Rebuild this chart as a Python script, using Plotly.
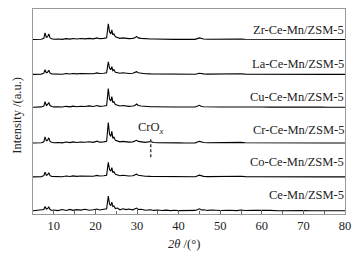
import plotly.graph_objects as go

two_theta = [5, 6, 7, 7.6, 7.9, 8.2, 8.5, 8.8, 9.1, 9.5,
             10, 11, 12, 13, 13.9, 14.6, 15.5, 16.5, 17.5, 18.5,
             19.5, 20.4, 21, 22, 22.7, 23.1, 23.4, 23.7, 23.95, 24.2,
             24.45, 24.8, 25.3, 25.9, 26.6, 27.4, 28, 29, 29.5, 29.9,
             30.3, 31, 32, 33.3, 34, 35, 36, 37, 38, 39,
             40, 41.5, 43, 44, 45, 45.5, 46, 47, 48, 50,
             52, 54, 55, 56, 58, 60, 62, 64, 66, 68,
             70, 72, 74, 76, 78, 80]

samples = ["Ce-Mn/ZSM-5", "Co-Ce-Mn/ZSM-5", "Cr-Ce-Mn/ZSM-5",
           "Cu-Ce-Mn/ZSM-5", "La-Ce-Mn/ZSM-5", "Zr-Ce-Mn/ZSM-5"]

int_ce_mn = [0.3, 0.6, 0.8, 1.5, 4.5, 2.0, 2.5, 4.0, 1.5, 0.5,
             1.0, 0.4, 1.5, 0.6, 1.6, 0.7, 1.4, 0.9, 1.8, 0.8,
             1.2, 2.0, 1.0, 1.6, 2.2, 15.0, 7.0, 5.5, 9.0, 4.5,
             5.0, 2.5, 3.0, 1.2, 2.2, 1.4, 2.0, 1.2, 2.5, 3.0,
             1.5, 1.8, 0.8, 1.2, 0.6, 1.0, 0.5, 0.9, 0.4, 0.8,
             0.4, 0.7, 0.3, 0.6, 2.2, 1.0, 1.2, 0.6, 1.0, 0.5,
             0.8, 0.4, 1.0, 0.5, 0.7, 0.3, 0.6, 0.3, 0.5, 0.2,
             0.5, 0.2, 0.4, 0.2, 0.3, 0.3]
int_co = [0.3, 0.5, 0.6, 1.5, 5.0, 2.0, 2.5, 4.5, 1.5, 0.8,
          0.6, 0.8, 0.5, 1.2, 0.7, 1.3, 0.8, 1.2, 1.0, 1.4,
          1.0, 1.8, 1.2, 1.4, 2.0, 15.0, 7.5, 6.0, 9.5, 4.5,
          5.5, 3.0, 2.5, 1.5, 2.0, 1.5, 1.2, 1.5, 2.0, 3.0,
          2.0, 1.5, 1.0, 0.8, 0.8, 0.6, 0.7, 0.6, 0.5, 0.5,
          0.5, 0.4, 0.4, 0.5, 2.0, 1.0, 0.8, 0.6, 0.7, 0.5,
          0.5, 0.6, 0.9, 0.6, 0.5, 0.5, 0.4, 0.5, 0.4, 0.4,
          0.4, 0.3, 0.4, 0.3, 0.3, 0.3]
int_cr = [0.3, 0.5, 0.6, 1.5, 6.5, 2.5, 3.0, 5.5, 2.0, 1.0,
          0.6, 0.9, 0.5, 1.3, 0.7, 1.5, 0.8, 1.4, 1.1, 1.6,
          1.0, 2.2, 1.2, 1.5, 2.0, 21.0, 9.0, 7.0, 12.0, 5.0,
          6.5, 3.0, 2.5, 1.5, 2.0, 1.5, 1.2, 1.5, 2.0, 3.0,
          2.0, 1.5, 1.0, 1.8, 0.8, 0.6, 0.7, 0.6, 0.5, 0.5,
          0.5, 0.4, 0.4, 0.5, 2.0, 1.0, 0.8, 0.6, 0.7, 0.5,
          0.5, 0.6, 1.0, 0.6, 0.5, 0.5, 0.4, 0.5, 0.4, 0.4,
          0.4, 0.3, 0.4, 0.3, 0.3, 0.3]
int_cu = [0.3, 0.5, 0.6, 1.5, 6.0, 2.0, 3.0, 5.0, 2.0, 1.0,
          0.6, 0.8, 0.5, 1.2, 0.7, 1.4, 0.8, 1.3, 1.0, 1.6,
          1.0, 2.0, 1.2, 1.5, 2.0, 19.0, 8.5, 6.5, 11.0, 5.0,
          6.0, 3.0, 2.5, 1.5, 2.0, 1.5, 1.2, 1.5, 2.0, 3.5,
          2.0, 1.5, 1.0, 0.8, 0.8, 0.6, 0.7, 0.6, 0.5, 0.5,
          0.5, 0.4, 0.4, 0.5, 2.2, 1.0, 0.8, 0.6, 0.7, 0.5,
          0.5, 0.6, 0.9, 0.6, 0.5, 0.5, 0.4, 0.5, 0.4, 0.4,
          0.4, 0.3, 0.4, 0.3, 0.3, 0.3]
int_la = [0.3, 0.5, 0.6, 1.5, 5.0, 2.0, 2.5, 4.5, 1.5, 0.8,
          0.6, 0.8, 0.5, 1.2, 0.7, 1.2, 0.8, 1.2, 1.0, 1.4,
          1.0, 1.8, 1.2, 1.4, 2.0, 13.0, 6.5, 5.0, 8.0, 4.0,
          5.0, 2.5, 2.0, 1.5, 2.0, 1.5, 1.2, 1.5, 2.0, 3.0,
          2.0, 1.5, 1.0, 0.8, 0.8, 0.6, 0.7, 0.6, 0.5, 0.5,
          0.5, 0.4, 0.4, 0.5, 1.5, 1.0, 0.8, 0.6, 0.7, 0.5,
          0.5, 0.6, 0.9, 0.6, 0.5, 0.5, 0.4, 0.5, 0.4, 0.4,
          0.4, 0.3, 0.4, 0.3, 0.3, 0.3]
int_zr = [0.3, 0.5, 0.6, 1.5, 7.0, 2.5, 3.0, 6.0, 2.0, 1.0,
          0.6, 0.8, 0.5, 1.2, 0.7, 1.4, 0.8, 1.3, 1.0, 1.5,
          1.0, 2.0, 1.2, 1.5, 2.0, 16.0, 8.0, 6.0, 10.0, 5.0,
          6.0, 3.0, 2.5, 1.5, 2.0, 1.5, 1.2, 1.5, 2.0, 3.5,
          2.0, 1.5, 1.0, 0.8, 0.8, 0.6, 0.7, 0.6, 0.5, 0.5,
          0.5, 0.4, 0.4, 0.5, 2.0, 1.0, 0.8, 0.6, 0.7, 0.5,
          0.5, 0.6, 0.9, 0.6, 0.5, 0.5, 0.4, 0.5, 0.4, 0.4,
          0.4, 0.3, 0.4, 0.3, 0.3, 0.3]

intensities = [int_ce_mn, int_co, int_cr, int_cu, int_la, int_zr]
offsets = [0, 34, 68, 104, 137, 172]
label_heights = [16, 15, 13, 11, 11, 10]

x_ticks = [10, 20, 30, 40, 50, 60, 70, 80]
crox_position = 33.3

FONT = "Liberation Serif"

fig = go.Figure()
for name, ys, off in zip(samples, intensities, offsets):
    fig.add_trace(go.Scatter(
        x=two_theta, y=[v + off for v in ys], mode="lines",
        line=dict(color="black", width=1.1), name=name, showlegend=False))

for name, off, lh in zip(samples, offsets, label_heights):
    fig.add_annotation(x=79, y=off + lh, text=name, showarrow=False,
                       xanchor="right", yanchor="middle", xshift=5,
                       font=dict(family=FONT, size=12.5, color="#222"))

cr_off = offsets[2]
fig.add_shape(type="line", x0=crox_position, x1=crox_position,
              y0=cr_off - 14, y1=cr_off + 5,
              line=dict(color="#444", width=1.5, dash="3px,2px"))
fig.add_annotation(x=crox_position, y=cr_off + 15, text="CrO<sub><i>x</i></sub>",
                   showarrow=False, xanchor="center", yanchor="middle",
                   font=dict(family=FONT, size=12.5, color="#222"))

# axis titles
fig.add_annotation(xref="paper", yref="paper", x=0.483, y=-0.146,
                   text="<i>2θ</i> /(°)", showarrow=False,
                   xanchor="center", yanchor="middle",
                   font=dict(family=FONT, size=12.5, color="#222"))
fig.add_annotation(xref="paper", yref="paper", x=-0.054, y=0.48,
                   text="Intensity /(a.u.)", showarrow=False, textangle=-90,
                   xanchor="center", yanchor="middle",
                   font=dict(family=FONT, size=12.5, color="#222"))

fig.update_layout(
    width=359, height=255,
    margin=dict(l=33, r=9, t=8, b=41),
    paper_bgcolor="white", plot_bgcolor="white",
    font=dict(family=FONT, size=12.5, color="#222"),
    xaxis=dict(range=[5, 80], tickvals=x_ticks, ticks="inside", ticklen=4,
               tickcolor="#666", showline=True, linecolor="#999", linewidth=1,
               mirror=True, showgrid=False, zeroline=False,
               minor=dict(dtick=5, ticks="inside", ticklen=3, tickcolor="#666")),
    yaxis=dict(range=[-3, 203], showticklabels=False, ticks="",
               showline=True, linecolor="#999", linewidth=1, mirror=True,
               showgrid=False, zeroline=False),
)

fig.write_html("out.html", config={"displayModeBar": False},
               post_script="document.body.style.margin='0';document.body.style.padding='0';")
